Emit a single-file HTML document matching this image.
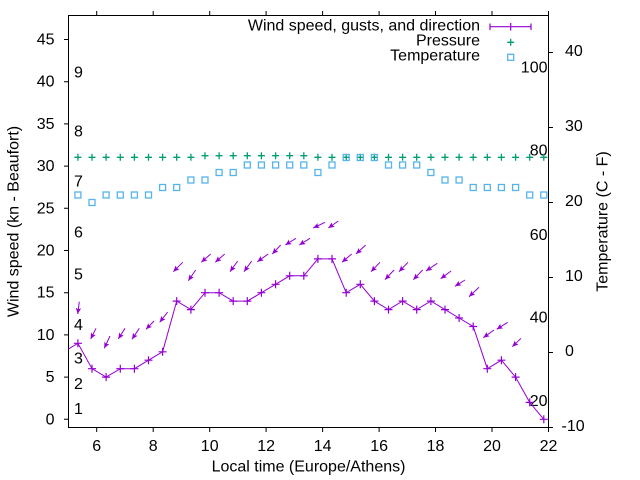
<!DOCTYPE html>
<html><head><meta charset="utf-8"><style>
html,body{margin:0;padding:0;background:#fff;}
svg{display:block;}
text{font-family:"Liberation Sans",Arial,sans-serif;font-size:16px;fill:#000;}
</style></head><body>
<svg width="640" height="480" viewBox="0 0 640 480" xmlns="http://www.w3.org/2000/svg">
<defs>
<clipPath id="pc"><rect x="68.5" y="15.5" width="480" height="412"/></clipPath>
<marker id="ah" markerWidth="8" markerHeight="8" refX="6" refY="3" orient="auto" markerUnits="userSpaceOnUse"><path d="M0,0.3 L6,3 L0,5.7 L1.2,3 z" fill="#9400d3"/></marker>
<g id="pw"><path d="M-4,0 H4 M0,-4 V4" stroke="#9400d3" stroke-width="1.2" fill="none"/></g>
<g id="pp"><path d="M-3.5,0 H3.5 M0,-3.5 V3.5" stroke="#009e73" stroke-width="1.3" fill="none"/></g>
<g id="ps"><rect x="-3" y="-3" width="6" height="6" stroke="#56b4e9" stroke-width="1.3" fill="none"/></g>
</defs>

<!-- border -->
<rect x="68.5" y="15.5" width="480" height="412" fill="none" stroke="#000" stroke-width="1"/>

<!-- left ticks -->
<g stroke="#000" stroke-width="1">
<path d="M64,419.3H68.5 M64,377.1H68.5 M64,334.9H68.5 M64,292.7H68.5 M64,250.5H68.5 M64,208.3H68.5 M64,166.1H68.5 M64,123.9H68.5 M64,81.7H68.5 M64,39.5H68.5"/>
<!-- right ticks -->
<path d="M548.5,52.5H553 M548.5,127.5H553 M548.5,202.5H553 M548.5,277.5H553 M548.5,352.5H553 M548.5,427.5H553"/>
<!-- bottom ticks -->
<path d="M96.7,427.5V432 M153.2,427.5V432 M209.7,427.5V432 M266.1,427.5V432 M322.6,427.5V432 M379.1,427.5V432 M435.5,427.5V432 M492,427.5V432 M548.5,427.5V432"/>
<!-- top ticks -->
<path d="M96.7,15.5V11 M153.2,15.5V11 M209.7,15.5V11 M266.1,15.5V11 M322.6,15.5V11 M379.1,15.5V11 M435.5,15.5V11 M492,15.5V11 M548.5,15.5V11"/>
</g>

<!-- left tick labels -->
<g text-anchor="end">
<text x="54.5" y="424.3">0</text>
<text x="54.5" y="382.1">5</text>
<text x="54.5" y="339.9">10</text>
<text x="54.5" y="297.7">15</text>
<text x="54.5" y="255.5">20</text>
<text x="54.5" y="213.3">25</text>
<text x="54.5" y="171.1">30</text>
<text x="54.5" y="128.9">35</text>
<text x="54.5" y="86.7">40</text>
<text x="54.5" y="44.5">45</text>
</g>

<!-- right tick labels -->
<text x="565" y="56">40</text>
<text x="565" y="131">30</text>
<text x="565" y="206">20</text>
<text x="565" y="281">10</text>
<text x="565" y="356">0</text>
<text x="561.5" y="431">-10</text>

<!-- bottom tick labels -->
<g text-anchor="middle">
<text x="96.7" y="451">6</text>
<text x="153.2" y="451">8</text>
<text x="209.7" y="451">10</text>
<text x="266.1" y="451">12</text>
<text x="322.6" y="451">14</text>
<text x="379.1" y="451">16</text>
<text x="435.5" y="451">18</text>
<text x="492" y="451">20</text>
<text x="548.5" y="451">22</text>
</g>

<!-- axis labels -->
<text x="308.5" y="471.5" text-anchor="middle">Local time (Europe/Athens)</text>
<text transform="translate(18.3,221.5) rotate(-90)" text-anchor="middle">Wind speed (kn - Beaufort)</text>
<text transform="translate(607.5,221.5) rotate(-90)" text-anchor="middle">Temperature (C - F)</text>

<!-- Beaufort labels -->
<text x="74" y="77.7">9</text>
<text x="74" y="136.7">8</text>
<text x="74" y="186.7">7</text>
<text x="74" y="237.3">6</text>
<text x="74" y="279.3">5</text>
<text x="74" y="330">4</text>
<text x="74" y="363.3">3</text>
<text x="74" y="389">2</text>
<text x="74" y="414">1</text>

<!-- Fahrenheit labels -->
<g text-anchor="end">
<text x="547.5" y="72.7">100</text>
<text x="547.5" y="155.7">80</text>
<text x="547.5" y="240">60</text>
<text x="547.5" y="322.3">40</text>
<text x="547.5" y="406">20</text>
</g>

<!-- legend -->
<g text-anchor="end">
<text x="480" y="30.7">Wind speed, gusts, and direction</text>
<text x="480" y="45.7">Pressure</text>
<text x="480" y="60.7">Temperature</text>
</g>
<path d="M490,26.7H531 M490,23.5V30 M531,23.5V30 M510.7,23V30.5" stroke="#9400d3" stroke-width="1.2" fill="none"/>
<use href="#pp" x="510.7" y="42.3"/>
<use href="#ps" x="510.7" y="57.3"/>

<g clip-path="url(#pc)">
<!-- pressure -->
<use href="#pp" x="77.9" y="157.3"/><use href="#pp" x="92" y="157.3"/><use href="#pp" x="106.1" y="157.3"/><use href="#pp" x="120.3" y="157.3"/><use href="#pp" x="134.4" y="157.3"/><use href="#pp" x="148.5" y="157.3"/><use href="#pp" x="162.6" y="157.3"/><use href="#pp" x="176.7" y="157.3"/><use href="#pp" x="190.9" y="157.3"/>
<use href="#pp" x="205" y="155.7"/><use href="#pp" x="219.1" y="155.7"/><use href="#pp" x="233.2" y="155.7"/><use href="#pp" x="247.3" y="155.7"/><use href="#pp" x="261.4" y="155.7"/><use href="#pp" x="275.6" y="155.7"/><use href="#pp" x="289.7" y="155.7"/><use href="#pp" x="303.8" y="155.7"/>
<use href="#pp" x="317.9" y="157.3"/><use href="#pp" x="332" y="157.3"/><use href="#pp" x="346.2" y="157.3"/><use href="#pp" x="360.3" y="157.3"/><use href="#pp" x="374.4" y="157.3"/><use href="#pp" x="388.5" y="157.3"/><use href="#pp" x="402.6" y="157.3"/><use href="#pp" x="416.7" y="157.3"/><use href="#pp" x="430.9" y="157.3"/><use href="#pp" x="445" y="157.3"/><use href="#pp" x="459.1" y="157.3"/><use href="#pp" x="473.2" y="157.3"/><use href="#pp" x="487.3" y="157.3"/><use href="#pp" x="501.4" y="157.3"/><use href="#pp" x="515.6" y="157.3"/><use href="#pp" x="529.7" y="157.3"/><use href="#pp" x="543.8" y="157.3"/>

<!-- temperature -->
<use href="#ps" x="77.9" y="195"/><use href="#ps" x="92" y="202.5"/><use href="#ps" x="106.1" y="195"/><use href="#ps" x="120.3" y="195"/><use href="#ps" x="134.4" y="195"/><use href="#ps" x="148.5" y="195"/><use href="#ps" x="162.6" y="187.5"/><use href="#ps" x="176.7" y="187.5"/><use href="#ps" x="190.9" y="180"/><use href="#ps" x="205" y="180"/><use href="#ps" x="219.1" y="172.5"/><use href="#ps" x="233.2" y="172.5"/><use href="#ps" x="247.3" y="165"/><use href="#ps" x="261.4" y="165"/><use href="#ps" x="275.6" y="165"/><use href="#ps" x="289.7" y="165"/><use href="#ps" x="303.8" y="165"/><use href="#ps" x="317.9" y="172.5"/><use href="#ps" x="332" y="165"/><use href="#ps" x="346.2" y="157.5"/><use href="#ps" x="360.3" y="157.5"/><use href="#ps" x="374.4" y="157.5"/><use href="#ps" x="388.5" y="165"/><use href="#ps" x="402.6" y="165"/><use href="#ps" x="416.7" y="165"/><use href="#ps" x="430.9" y="172.5"/><use href="#ps" x="445" y="180"/><use href="#ps" x="459.1" y="180"/><use href="#ps" x="473.2" y="187.5"/><use href="#ps" x="487.3" y="187.5"/><use href="#ps" x="501.4" y="187.5"/><use href="#ps" x="515.6" y="187.5"/><use href="#ps" x="529.7" y="195"/><use href="#ps" x="543.8" y="195"/>

<!-- wind line -->
<polyline fill="none" stroke="#9400d3" stroke-width="1" points="63.8,351.8 77.9,343.3 92,368.7 106.1,377.1 120.3,368.7 134.4,368.7 148.5,360.2 162.6,351.8 176.7,301.1 190.9,309.6 205,292.7 219.1,292.7 233.2,301.1 247.3,301.1 261.4,292.7 275.6,284.3 289.7,275.8 303.8,275.8 317.9,258.9 332,258.9 346.2,292.7 360.3,284.3 374.4,301.1 388.5,309.6 402.6,301.1 416.7,309.6 430.9,301.1 445,309.6 459.1,318 473.2,326.5 487.3,368.7 501.4,360.2 515.6,377.1 529.7,402.4 543.8,419.3"/>
<use href="#pw" x="77.9" y="343.3"/><use href="#pw" x="92" y="368.7"/><use href="#pw" x="106.1" y="377.1"/><use href="#pw" x="120.3" y="368.7"/><use href="#pw" x="134.4" y="368.7"/><use href="#pw" x="148.5" y="360.2"/><use href="#pw" x="162.6" y="351.8"/><use href="#pw" x="176.7" y="301.1"/><use href="#pw" x="190.9" y="309.6"/><use href="#pw" x="205" y="292.7"/><use href="#pw" x="219.1" y="292.7"/><use href="#pw" x="233.2" y="301.1"/><use href="#pw" x="247.3" y="301.1"/><use href="#pw" x="261.4" y="292.7"/><use href="#pw" x="275.6" y="284.3"/><use href="#pw" x="289.7" y="275.8"/><use href="#pw" x="303.8" y="275.8"/><use href="#pw" x="317.9" y="258.9"/><use href="#pw" x="332" y="258.9"/><use href="#pw" x="346.2" y="292.7"/><use href="#pw" x="360.3" y="284.3"/><use href="#pw" x="374.4" y="301.1"/><use href="#pw" x="388.5" y="309.6"/><use href="#pw" x="402.6" y="301.1"/><use href="#pw" x="416.7" y="309.6"/><use href="#pw" x="430.9" y="301.1"/><use href="#pw" x="445" y="309.6"/><use href="#pw" x="459.1" y="318"/><use href="#pw" x="473.2" y="326.5"/><use href="#pw" x="487.3" y="368.7"/><use href="#pw" x="501.4" y="360.2"/><use href="#pw" x="515.6" y="377.1"/><use href="#pw" x="529.7" y="402.4"/><use href="#pw" x="543.8" y="419.3"/>

<!-- wind direction arrows -->
<g stroke="#9400d3" stroke-width="1" fill="none" marker-end="url(#ah)">
<path d="M79.3,301.7L77.7,314"/>
<path d="M96,328.3L90.7,339"/>
<path d="M110,336L104.3,348.3"/>
<path d="M125,328.3L118.3,339"/>
<path d="M139.3,328.3L132,339.3"/>
<path d="M154,321L146,329.3"/>
<path d="M167.7,312L159.7,322.3"/>
<path d="M182.7,262.3L173.3,271.7"/>
<path d="M195.7,270L188.3,280.7"/>
<path d="M210.7,254L201.3,262.3"/>
<path d="M224.7,254L215.3,262.3"/>
<path d="M237.7,261L230,271.7"/>
<path d="M251.7,261L244,271.7"/>
<path d="M268.3,254L257.3,261.7"/>
<path d="M280.7,245L272.3,254"/>
<path d="M296,238.3L285.3,245"/>
<path d="M310,238.3L299.3,245"/>
<path d="M325,222.3L313.3,228"/>
<path d="M338.3,221L328.3,228"/>
<path d="M351.7,254L342,262.3"/>
<path d="M365.7,245L356,254"/>
<path d="M380,262.3L371,271.7"/>
<path d="M394,270L385,279.7"/>
<path d="M408,262.3L399,271.7"/>
<path d="M422.7,270L413.3,279.7"/>
<path d="M437.3,263.3L426,271"/>
<path d="M451,271L440.7,278.7"/>
<path d="M465,280L455,286.3"/>
<path d="M479,287.3L469,296.7"/>
<path d="M494,330L483.3,337.7"/>
<path d="M507.7,322.3L496.7,329.3"/>
<path d="M521,338.3L512.3,346.7"/>
</g>
</g>
</svg>
</body></html>
